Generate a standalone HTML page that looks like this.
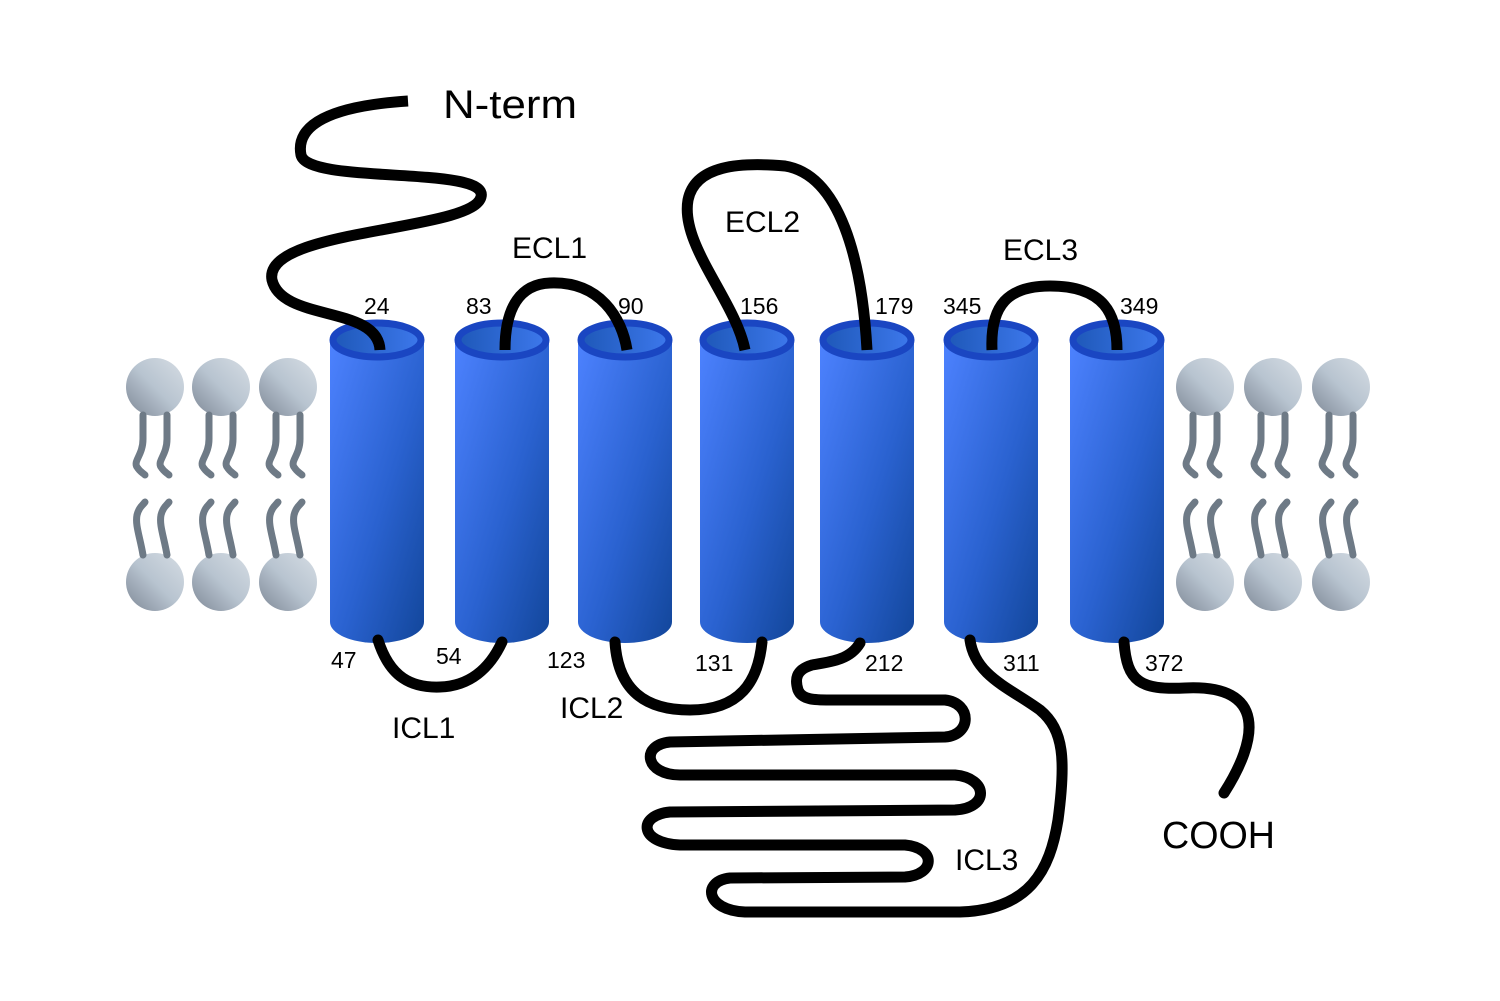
<!DOCTYPE html>
<html><head><meta charset="utf-8"><style>html,body{margin:0;padding:0;background:#fff}svg{display:block}</style></head>
<body>
<svg width="1500" height="1001" viewBox="0 0 1500 1001" xmlns="http://www.w3.org/2000/svg">
<defs>
<linearGradient id="cyl" x1="0" y1="0" x2="1" y2="1">
<stop offset="0" stop-color="#4d82ff"/><stop offset="0.55" stop-color="#2a62d0"/><stop offset="1" stop-color="#12469a"/>
</linearGradient>
<linearGradient id="inner" x1="0" y1="0" x2="1" y2="0">
<stop offset="0" stop-color="#1e58b8"/><stop offset="1" stop-color="#3d78ec"/>
</linearGradient>
<linearGradient id="head" x1="0" y1="1" x2="1" y2="0">
<stop offset="0" stop-color="#7e8896"/><stop offset="0.5" stop-color="#b8c4d0"/><stop offset="1" stop-color="#d6dde4"/>
</linearGradient>
<g id="lipid">
<circle cx="0" cy="0" r="29" fill="url(#head)"/>
<path d="M-12,28 L-12,52 C-12,68 -22,74 -18,80 C-15,85 -12,86 -10,88 M12,28 L12,52 C12,68 2,74 6,80 C9,85 12,86 14,88" fill="none" stroke="#6e7a86" stroke-width="7" stroke-linecap="round"/>
<circle cx="0" cy="195" r="29" fill="url(#head)"/>
<path d="M-12,168 C-15,150 -20,138 -18,128 C-16,120 -12,118 -10,115 M12,168 C9,150 4,138 6,128 C8,120 12,118 14,115" fill="none" stroke="#6e7a86" stroke-width="7" stroke-linecap="round"/>
</g>
<g id="tm">
<path d="M-47,340 L-47,622 A47,21 0 0 0 47,622 L47,340 Z" fill="url(#cyl)"/>
<ellipse cx="0" cy="340" rx="44" ry="17" fill="url(#inner)" stroke="#1a46c2" stroke-width="7"/>
</g>
</defs>
<use href="#lipid" x="155" y="387"/><use href="#lipid" x="221" y="387"/><use href="#lipid" x="288" y="387"/>
<use href="#lipid" x="1205" y="387"/><use href="#lipid" x="1273" y="387"/><use href="#lipid" x="1341" y="387"/>
<use href="#tm" x="377"/><use href="#tm" x="502"/><use href="#tm" x="625"/><use href="#tm" x="747"/><use href="#tm" x="867"/><use href="#tm" x="991"/><use href="#tm" x="1117"/>
<g fill="none" stroke="#000" stroke-width="11" stroke-linecap="round">
<path d="M408,101 C330,106 295,125 301,155 C308,185 490,165 481,197 C472,232 262,228 272,280 C282,322 378,305 380,350" stroke-linecap="butt"/>
<path d="M505,350 C505,305 522,284 550,283 C600,281 622,318 627,350" stroke-linecap="butt"/>
<path d="M745,350 C735,300 680,245 688,200 C695,165 740,162 785,166 C840,175 862,260 867,350" stroke-linecap="butt"/>
<path d="M992,350 C990,305 1008,286 1050,286 C1105,286 1117,315 1117,350" stroke-linecap="butt"/>
<path d="M378,640 C390,678 412,688 440,687 C470,686 490,668 502,642"/>
<path d="M615,642 C618,690 645,710 690,710 C740,710 758,682 762,642"/>
<path d="M860,643 C850,660 830,662 812,665 C795,670 795,680 798,690 C802,700 815,700 830,700 L945,700 C972,703 972,735 945,737 L670,742 C640,745 645,775 680,775 L955,775 C988,778 990,808 955,810 L670,812 C638,815 638,843 680,845 L905,845 C937,848 935,875 905,877 L730,878 C702,881 705,910 745,912 L960,912 C1030,910 1050,870 1058,820 C1066,760 1064,730 1040,710 C1010,688 975,676 970,640"/>
<path d="M1124,642 C1127,682 1140,690 1185,688 C1268,684 1258,740 1224,793"/>
</g>
<g font-family="Liberation Sans, sans-serif" fill="#000">
<text x="443" y="118" font-size="40" textLength="134" lengthAdjust="spacingAndGlyphs">N-term</text>
<text x="1162" y="848" font-size="38" textLength="113" lengthAdjust="spacingAndGlyphs">COOH</text>
<g font-size="30">
<text x="512" y="258">ECL1</text><text x="725" y="232">ECL2</text><text x="1003" y="260">ECL3</text>
<text x="392" y="738">ICL1</text><text x="560" y="718">ICL2</text><text x="955" y="870">ICL3</text>
</g>
<g font-size="23">
<text x="364" y="314">24</text><text x="466" y="314">83</text><text x="618" y="314">90</text><text x="740" y="314">156</text><text x="875" y="314">179</text><text x="943" y="314">345</text><text x="1120" y="314">349</text>
<text x="331" y="668">47</text><text x="436" y="664">54</text><text x="547" y="668">123</text><text x="695" y="671">131</text><text x="865" y="671">212</text><text x="1003" y="671">311</text><text x="1145" y="671">372</text>
</g>
</g>
</svg>
</body></html>
